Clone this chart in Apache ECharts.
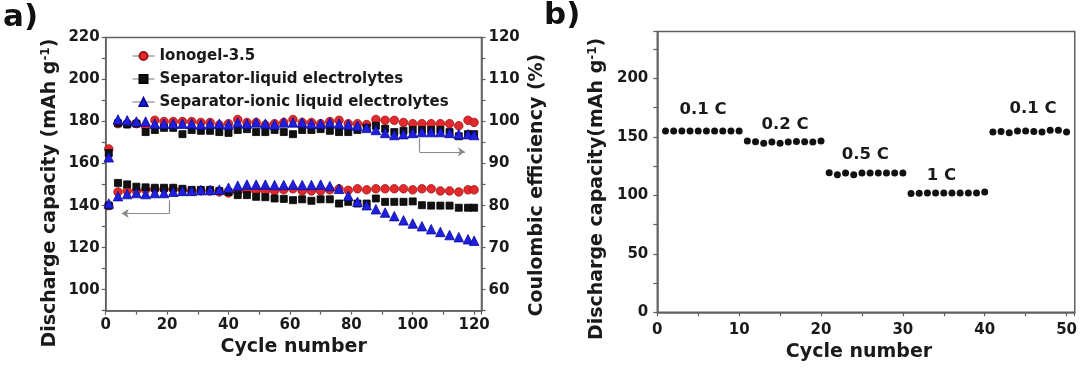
<!DOCTYPE html>
<html><head><meta charset="utf-8">
<script src="https://cdn.jsdelivr.net/npm/echarts@6/dist/echarts.min.js"></script>
<style>html,body{margin:0;padding:0;background:#fff}#c{width:1080px;height:370px}</style>
</head><body><div id="c"></div>
<script>
// ---------- panel a) data ----------
const cyclesA = [1,4,7,10,13,16,19,22,25,28,31,34,37,40,43,46,49,52,55,58,61,64,67,70,73,76,79,82,85,88,91,94,97,100,103,106,109,112,115,118,120];
const ionogelCap = [140,146.5,147,147,147.5,147.8,147.8,147.8,147.5,147,147,147,146.5,146,146.5,147,147,147,147,147.5,148,147,147,147,147.5,148,147.3,148,147.5,148,148,148,148,147.5,148,148,147,147,146.5,147.5,147.5];
const ionogelCE = [93.5,99.5,99.5,99.5,98.8,100.3,100,100,100,100,99.8,99.8,99.2,99.5,100.5,99.8,99.8,99.2,99.5,99.8,100.5,99.8,99.8,99.5,100,100.3,99.5,99.5,99.3,100.5,100.3,100.3,99.8,99.5,99.5,99.5,99.5,99.5,99,100.3,99.8];
const liquidCap = [140,150.8,150.1,149,148.7,148.5,148.5,148.5,148,147.5,147.5,147.5,147,146.5,145,145,144.2,144,143.4,143.2,142.6,143,142.3,143,143,141,141.8,141,141,143.4,141.8,141.8,141.8,142,140.2,140,140,140,139,139,139];
const liquidCE = [92.5,99.6,99.3,99.5,97.5,98,98.5,98.5,97,98,97.8,97.8,97.5,97.3,98,98.2,97.5,97.5,98,97.5,97,98,98,98.2,97.8,97.5,97.5,98,98.5,99,98.3,97.5,97.8,98,98,98,98,97.5,96.5,97,97];
const ionicCap = [141,144.5,145.5,146,145.5,146,146,146.6,147,147,147.4,147.4,147.6,148.5,149.5,150,150,150,149.8,149.8,150,149.8,149.8,150,149.3,148,144.7,141.8,140.2,138.3,136.7,135,133,131.5,130.2,128.8,127.5,126,125,124,123.3];
const ionicCE = [91.5,100.5,100.3,100,100,99.5,99.5,99.5,99.5,99.5,99.3,99.5,99.5,99.3,99.8,99.5,99.8,99.5,99.3,99.8,99.8,99.8,99.5,99.5,99.8,99.5,99.3,99,98.5,98,97.3,96.8,97,97.3,97.5,97.5,97.5,97.3,97,97,96.8];
const seriesNamesA = ['Ionogel-3.5','Separator-liquid electrolytes','Separator-ionic liquid electrolytes'];
// annotation arrows (data coordinates)
const capArrowStem = [[20.7,142.5],[20.7,136.3]];
const capArrowHead = [[20.7,136.3],[5.2,136.3]];
const ceArrowStem = [[102.2,96.0],[102.2,92.8]];
const ceArrowHead = [[102.2,92.8],[117,92.8]];

// ---------- panel b) data ----------
const cyclesB = [1,2,3,4,5,6,7,8,9,10,11,12,13,14,15,16,17,18,19,20,21,22,23,24,25,26,27,28,29,30,31,32,33,34,35,36,37,38,39,40,41,42,43,44,45,46,47,48,49,50];
const capB = [155,155,155,155,155,155,155,155,155,155,
              146.4,145.8,144.4,145.5,144.4,145.5,146,145.8,145.5,146.5,
              119.3,117.5,119,117.5,119,119,119,119,119,119,
              101.6,101.8,102,102,102,102,102,102,102,102.8,
              154,154.5,153.5,155,155,154.5,154,155.5,155.5,154];
const rateText = ['0.1 C','0.2 C','0.5 C','1 C','0.1 C'];
const rateX = [5.6,15.6,25.4,34.7,45.9];
const rateY = [173,160,134.5,117,174];

const FONT = 'DejaVu Sans';
const AX = '#606060';
const TXT = '#1a1a1a';
function pairs(xs, ys){ return xs.map((x,i)=>[x, ys[i]]); }

function axisBase(opts){
  return Object.assign({
    type:'value',
    axisLine:{show:true, onZero:false, lineStyle:{color:AX, width:1.5}},
    axisTick:{show:true, inside:false, length:4, lineStyle:{color:AX, width:1.2}},
    splitLine:{show:false},
    axisLabel:{fontFamily:FONT, fontWeight:'bold', fontSize:15, color:TXT, margin:7},
    nameLocation:'middle',
    nameTextStyle:{fontFamily:FONT, fontWeight:'bold', fontSize:19, color:TXT}
  }, opts);
}
function every(step){ return v => (Math.abs(v/step - Math.round(v/step)) < 1e-6 ? String(v) : ''); }

const styles = [
  {symbol:'circle', size:8.5, color:'#e3292b', border:'#9e1414'},
  {symbol:'rect', size:7, color:'#111111', border:'#000000'},
  {symbol:'triangle', size:9.5, color:'#1f1fe0', border:'#0a0a9a'}
];
const capData = [ionogelCap, liquidCap, ionicCap];
const ceData = [ionogelCE, liquidCE, ionicCE];

const series = [];
for (let k=0;k<3;k++){
  const st = styles[k];
  const common = {
    type:'line', name:seriesNamesA[k], xAxisIndex:0,
    symbol:st.symbol, symbolSize:st.size, showSymbol:true, showAllSymbol:true,
    lineStyle:{opacity:0, width:0},
    itemStyle:{color:st.color, borderColor:st.border, borderWidth:0.8, opacity:1},
    emphasis:{disabled:true}, silent:true
  };
  series.push(Object.assign({}, common, {yAxisIndex:0, data:pairs(cyclesA, capData[k])}));
  series.push(Object.assign({}, common, {yAxisIndex:1, data:pairs(cyclesA, ceData[k])}));
}
const arrowLine = {color:'#8a8a8a', width:1.2, opacity:1};
series.push({type:'lines', coordinateSystem:'cartesian2d', xAxisIndex:0, yAxisIndex:0, silent:true,
  symbol:['none','none'], lineStyle:arrowLine, data:[{coords:capArrowStem}]});
series.push({type:'lines', coordinateSystem:'cartesian2d', xAxisIndex:0, yAxisIndex:0, silent:true,
  symbol:['none','arrow'], symbolSize:[0,7], lineStyle:arrowLine, data:[{coords:capArrowHead}]});
series.push({type:'lines', coordinateSystem:'cartesian2d', xAxisIndex:0, yAxisIndex:1, silent:true,
  symbol:['none','none'], lineStyle:arrowLine, data:[{coords:ceArrowStem}]});
series.push({type:'lines', coordinateSystem:'cartesian2d', xAxisIndex:0, yAxisIndex:1, silent:true,
  symbol:['none','arrow'], symbolSize:[0,7], lineStyle:arrowLine, data:[{coords:ceArrowHead}]});

// panel b
series.push({type:'scatter', xAxisIndex:1, yAxisIndex:2, symbol:'circle', symbolSize:7,
  itemStyle:{color:'#111', opacity:1}, silent:true, data:pairs(cyclesB, capB)});
series.push({type:'scatter', xAxisIndex:1, yAxisIndex:2, symbol:'circle', symbolSize:1, silent:true,
  itemStyle:{color:'rgba(0,0,0,0)', opacity:1},
  label:{show:true, position:'inside', formatter:p=>p.data[2], fontFamily:FONT, fontWeight:'bold', fontSize:16.5, color:TXT, opacity:1},
  data:rateText.map((t,i)=>[rateX[i], rateY[i], t])});

const option = {
  animation:false,
  backgroundColor:'#fff',
  title:[
    {text:'a)', left:3, top:2, padding:0, textStyle:{fontFamily:FONT, fontWeight:'bold', fontSize:31, color:'#111'}},
    {text:'b)', left:544, top:0, padding:0, textStyle:{fontFamily:FONT, fontWeight:'bold', fontSize:31, color:'#111'}}
  ],
  legend:{
    data:seriesNamesA, orient:'vertical', left:132, top:47, padding:0,
    itemWidth:22, itemHeight:10, itemGap:5, selectedMode:false,
    textStyle:{fontFamily:FONT, fontWeight:'bold', fontSize:15, color:TXT, lineHeight:18},
    lineStyle:{color:'#777', width:1, opacity:1}
  },
  grid:[
    {left:105.7, top:37.5, width:375.8, height:273.2, show:true, borderColor:AX, borderWidth:1.5, backgroundColor:'rgba(0,0,0,0)'},
    {left:657.3, top:31.5, width:418.2, height:280.8, show:true, borderColor:AX, borderWidth:1.5, backgroundColor:'rgba(0,0,0,0)'}
  ],
  xAxis:[
    axisBase({gridIndex:0, min:0, max:122.4, interval:10, axisLabel:{fontFamily:FONT, fontWeight:'bold', fontSize:15, color:TXT, margin:7, formatter:every(20)},
      name:'Cycle number', nameGap:24}),
    axisBase({gridIndex:1, min:0, max:51, interval:5, axisLabel:{fontFamily:FONT, fontWeight:'bold', fontSize:15, color:TXT, margin:10, formatter:every(10)},
      name:'Cycle number', nameGap:29, nameTextStyle:{fontFamily:FONT, fontWeight:'bold', fontSize:19, color:TXT, padding:[0,14,0,0]}})
  ],
  yAxis:[
    axisBase({gridIndex:0, position:'left', min:90, max:220, interval:10,
      axisLabel:{fontFamily:FONT, fontWeight:'bold', fontSize:15, color:TXT, margin:6, formatter:every(20)},
      name:'Discharge capacity (mAh g{sup|-1})', nameRotate:90, nameGap:46,
      nameTextStyle:{fontFamily:FONT, fontWeight:'bold', fontSize:19, color:TXT, padding:[0,38,0,0],
        rich:{sup:{fontFamily:FONT, fontWeight:'bold', fontSize:12, color:TXT, verticalAlign:'top', padding:[0,0,8,0]}}}}),
    axisBase({gridIndex:0, position:'right', min:55, max:120, interval:5,
      axisLabel:{fontFamily:FONT, fontWeight:'bold', fontSize:15, color:TXT, margin:7, formatter:every(10)},
      name:'Coulombic efficiency (%)', nameRotate:90, nameGap:46,
      nameTextStyle:{fontFamily:FONT, fontWeight:'bold', fontSize:19, color:TXT, padding:[0,22,0,0]}}),
    axisBase({gridIndex:1, position:'left', min:0, max:240, interval:25,
      axisLabel:{fontFamily:FONT, fontWeight:'bold', fontSize:15, color:TXT, margin:9, formatter:every(50)},
      name:'Discharge capacity(mAh g{sup|-1})', nameRotate:90, nameGap:50,
      nameTextStyle:{fontFamily:FONT, fontWeight:'bold', fontSize:19, color:TXT, padding:[0,34,0,0],
        rich:{sup:{fontFamily:FONT, fontWeight:'bold', fontSize:12, color:TXT, verticalAlign:'top', padding:[0,0,8,0]}}}})
  ],
  series:series
};
const chart = echarts.init(document.getElementById('c'), null, {renderer:'canvas'});
chart.setOption(option);
</script></body></html>
